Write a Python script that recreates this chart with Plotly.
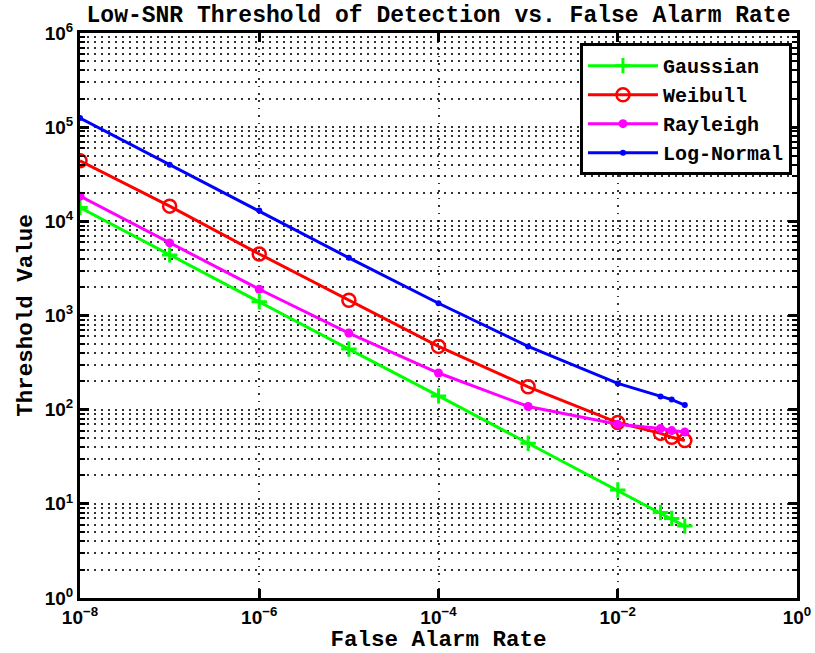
import plotly.graph_objects as go

# ---- data ----
far = [1e-8, 1e-7, 1e-6, 1e-5, 1e-4, 1e-3, 1e-2, 0.03, 0.04, 0.056]
gaussian = [14000, 4400, 1400, 440, 140, 44, 14, 8.1, 7.0, 5.8]
weibull = [44000, 14500, 4500, 1450, 470, 175, 73, 56, 51, 47]
rayleigh = [18500, 5900, 1900, 650, 245, 108, 70, 63, 60, 58]
lognormal = [125000, 40000, 13000, 4100, 1350, 470, 190, 138, 128, 112]

series_names = ["Gaussian", "Weibull", "Rayleigh", "Log-Normal"]
series_vals = [gaussian, weibull, rayleigh, lognormal]

x_exponents = [-8, -6, -4, -2, 0]
y_exponents = [0, 1, 2, 3, 4, 5, 6]
x_tickvals = [10.0 ** e for e in x_exponents]
y_tickvals = [10.0 ** e for e in y_exponents]
x_ticktext = ["10<sup>%s</sup>" % (str(e).replace("-", "\u2212")) for e in x_exponents]
y_ticktext = ["10<sup>%s</sup>" % e for e in y_exponents]
y_minor_vals = [m * 10.0 ** e for e in range(0, 6) for m in range(2, 10)]

title_text = "Low-SNR Threshold of Detection vs. False Alarm Rate"
x_title = "False Alarm Rate"
y_title = "Threshold Value"

# ---- styles ----
styles = [
    dict(color="#00FF00", marker=dict(symbol="cross-thin", size=11, line=dict(width=3, color="#00FF00"))),
    dict(color="#FF0000", marker=dict(symbol="circle-open", size=13, line=dict(width=2.5, color="#FF0000"))),
    dict(color="#FF00FF", marker=dict(symbol="circle", size=9, color="#FF00FF")),
    dict(color="#0000FF", marker=dict(symbol="circle", size=6, color="#0000FF")),
]

mono = "Liberation Mono, Courier New, monospace"
sans = "Liberation Sans, Arial, sans-serif"

fig = go.Figure()
for name, vals, st in zip(series_names, series_vals, styles):
    fig.add_trace(go.Scatter(
        x=far, y=vals, name=name, mode="lines+markers",
        line=dict(color=st["color"], width=3),
        marker=st["marker"],
    ))

grid_color = "rgba(0,0,0,0.8)"
grid_dash = "1.5px,5.5px"

fig.update_layout(
    width=815, height=653,
    margin=dict(l=80, r=18, t=33, b=55),
    paper_bgcolor="white", plot_bgcolor="white",
    title=dict(text=title_text, x=(80 + 797) / 2 / 815, xanchor="center",
               y=1 - 14 / 653, yanchor="middle", yref="container",
               font=dict(family=mono, size=23, color="black", weight="bold")),
    showlegend=True,
    legend=dict(x=0.993, y=0.982, xanchor="right", yanchor="top",
                bgcolor="white", bordercolor="black", borderwidth=3,
                font=dict(family=mono, size=20, color="black", weight="bold"),
                itemwidth=70, tracegroupgap=0),
    xaxis=dict(
        type="log", range=[-8, 0], tickmode="array", automargin=False,
        tickvals=x_tickvals, ticktext=x_ticktext,
        ticks="inside", ticklen=9, tickwidth=3, tickcolor="black",
        showline=True, linewidth=3, linecolor="black", mirror="ticks",
        showgrid=True, gridcolor=grid_color, gridwidth=1.5, griddash="1.5px,6px",
        zeroline=False,
        tickfont=dict(family=sans, size=19, color="black", weight="bold"),
        title=dict(text=x_title, standoff=4,
                   font=dict(family=mono, size=22.5, color="black", weight="bold")),
    ),
    yaxis=dict(
        type="log", range=[0, 6], tickmode="array", automargin=False,
        tickvals=y_tickvals, ticktext=y_ticktext,
        ticks="inside", ticklen=9, tickwidth=3, tickcolor="black",
        showline=True, linewidth=3, linecolor="black", mirror="ticks",
        showgrid=True, gridcolor=grid_color, gridwidth=1.5, griddash=grid_dash,
        zeroline=False,
        tickfont=dict(family=sans, size=19, color="black", weight="bold"),
        minor=dict(tickmode="array", tickvals=y_minor_vals,
                   ticks="inside", ticklen=5, tickwidth=2, tickcolor="black",
                   showgrid=True, gridcolor=grid_color, gridwidth=1.5, griddash=grid_dash),
        title=dict(text=y_title, standoff=6,
                   font=dict(family=mono, size=22.5, color="black", weight="bold")),
    ),
)

fig.write_html("out.html")
